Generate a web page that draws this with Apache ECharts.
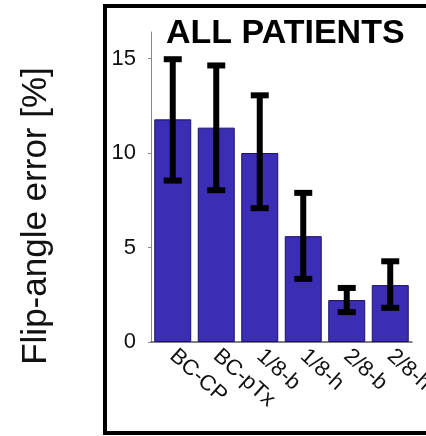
<!DOCTYPE html>
<html>
<head>
<meta charset="utf-8">
<script src="https://cdn.jsdelivr.net/npm/echarts@6/dist/echarts.min.js"></script>
<style>
  html, body { margin: 0; padding: 0; background: #fff; }
  #chart { width: 426px; height: 436px; }
</style>
</head>
<body>
<div id="chart"></div>
<script>
// Mean flip-angle error per pulse design, with error-bar limits
const categories = ['BC-CP', 'BC-pTx', '1/8-b', '1/8-h', '2/8-b', '2/8-h'];
const meanError = [11.78, 11.34, 10.0, 5.6, 2.22, 3.01];
const upperError = [14.96, 14.63, 13.05, 7.89, 2.86, 4.27];
const lowerError = [8.54, 8.03, 7.08, 3.34, 1.58, 1.81];
const yTicks = [0, 5, 10, 15];

const errorData = categories.map((c, i) => [i, lowerError[i], upperError[i]]);

const chart = echarts.init(document.getElementById('chart'));
chart.setOption({
  backgroundColor: '#fff',
  animation: false,
  title: {
    text: 'ALL PATIENTS',
    left: 161,
    top: 12,
    textStyle: {
      fontFamily: 'Liberation Sans, Arial, sans-serif',
      fontSize: 34,
      fontWeight: 'bold',
      color: '#000',
      lineHeight: 34
    }
  },
  grid: { left: 151, right: 14, top: 32, bottom: 94, outerBoundsMode: 'none' },
  xAxis: {
    type: 'category',
    data: categories,
    axisLine: { lineStyle: { color: '#555', width: 1.5 } },
    axisTick: { show: false },
    axisLabel: {
      interval: 0,
      rotate: -42,
      margin: 11,
      fontFamily: 'Liberation Sans, Arial, sans-serif',
      fontSize: 22,
      color: '#111'
    }
  },
  yAxis: {
    type: 'value',
    min: 0,
    max: 16.4,
    splitLine: { show: false },
    axisLine: { show: true, lineStyle: { color: '#888', width: 1 } },
    axisTick: { show: true, length: 3, customValues: yTicks, lineStyle: { color: '#888' } },
    axisLabel: {
      customValues: yTicks,
      margin: 15,
      fontFamily: 'Liberation Sans, Arial, sans-serif',
      fontSize: 22,
      color: '#111'
    }
  },
  series: [
    {
      type: 'bar',
      data: meanError,
      barWidth: '85%',
      itemStyle: { color: '#3b2db4', borderColor: '#1a1268', borderWidth: 1 }
    },
    {
      type: 'custom',
      data: errorData,
      z: 10,
      renderItem: function (params, api) {
        const x = api.value(0);
        const lo = api.coord([x, api.value(1)]);
        const hi = api.coord([x, api.value(2)]);
        const cap = 9;
        const style = { stroke: '#000', lineWidth: 6, fill: null };
        return {
          type: 'group',
          children: [
            { type: 'line', shape: { x1: hi[0], y1: hi[1], x2: lo[0], y2: lo[1] }, style: style },
            { type: 'line', shape: { x1: hi[0] - cap, y1: hi[1], x2: hi[0] + cap, y2: hi[1] }, style: style },
            { type: 'line', shape: { x1: lo[0] - cap, y1: lo[1], x2: lo[0] + cap, y2: lo[1] }, style: style }
          ]
        };
      }
    }
  ],
  graphic: [
    {
      type: 'rect',
      shape: { x: 105, y: 6, width: 340, height: 427 },
      style: { fill: null, stroke: '#000', lineWidth: 4 },
      silent: true
    },
    {
      type: 'text',
      x: 36,
      y: 216,
      rotation: Math.PI / 2,
      style: {
        text: 'Flip-angle error [%]',
        fontFamily: 'Liberation Sans, Arial, sans-serif',
        fontSize: 35,
        fill: '#111',
        align: 'center',
        verticalAlign: 'middle'
      }
    }
  ]
});
</script>
</body>
</html>
